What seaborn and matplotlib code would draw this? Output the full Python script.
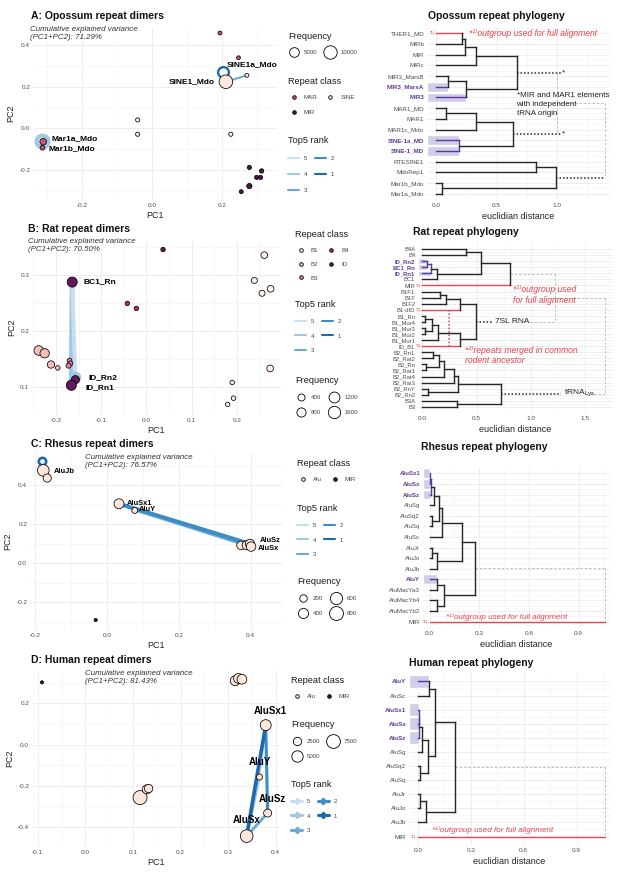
import numpy as np
import pandas as pd
import seaborn as sns
import matplotlib.pyplot as plt
from matplotlib.lines import Line2D
from matplotlib.ticker import MultipleLocator
from matplotlib.transforms import offset_copy

W, H = 617, 872

rank_colors = {1: "#1d6aaf", 2: "#3d8cc4", 3: "#6aaad5", 4: "#9fc9e3", 5: "#c9dff0"}
PURPLE = "#5b3b97"
RED = "#e8434f"
DARK = "#262626"
GREY = "#4d4d4d"

# ---------------- PCA data
# A: opossum
opo_name = ["MAR1", "MAR1_MD", "SINE1a_Mdo", "SINE1_Mdo", "RTESINE1", "MdoRep1", "SINE-1a_MD",
            "Mar1a_Mdo", "Mar1b_Mdo", "MIR", "MIRb", "MIRc", "MIR3", "MIR3_MarsA", "MIR3_MarsB"]
opo_class = ["MAR", "MAR", "SINE", "SINE", "SINE", "SINE", "SINE", "MAR", "MAR",
             "MIR", "MIR", "MIR", "MIR", "MIR", "MIR"]
opo_pc1 = [0.194, 0.247, 0.271, 0.211, -0.041, -0.041, 0.225, -0.311, -0.313,
           0.278, 0.313, 0.299, 0.310, 0.278, 0.255]
opo_pc2 = [0.458, 0.339, 0.254, 0.223, 0.039, -0.030, -0.030, -0.066, -0.095,
           -0.190, -0.207, -0.238, -0.238, -0.280, -0.307]
opo_freq = [350, 300, 400, 10300, 500, 500, 500, 2100, 760, 500, 600, 500, 500, 1100, 400]
opo_labels = ["SINE1a_Mdo", "SINE1_Mdo", "Mar1a_Mdo", "Mar1b_Mdo"]
opo_pairs = [("SINE1_Mdo", "SINE1a_Mdo", 3, 260), ("Mar1a_Mdo", "Mar1b_Mdo", 5, 300)]
opo_loops = [("SINE1_Mdo", 1, 325), ("Mar1a_Mdo", 4, 625)]
opo_freq_keys = [5000, 10000]
opo_variance = 71.29

# B: rat
rat_name = ["BC1_Rn", "ID_Rn2", "ID_Rn1", "ID", "B4A", "B4", "B2_Rn", "B2_Rat1", "B2_Rat2", "B2_Rat3",
            "B3", "B3A", "B3_Rn", "B1_Rn", "B1F", "B1F1", "B1F2", "B1_Mur1", "B1_Mur2", "B1_Mur3", "B1_Mur4"]
rat_class = ["ID", "ID", "ID", "ID", "B4", "B4", "B2", "B2", "B2", "B2",
             "B3", "B3", "B3", "B1", "B1", "B1", "B1", "B1", "B1", "B1", "B1"]
rat_pc1 = [-0.164, -0.157, -0.166, 0.037, -0.042, -0.022, -0.238, -0.225, -0.211, -0.196,
           -0.170, -0.168, -0.172, 0.261, 0.239, 0.256, 0.275, 0.274, 0.190, 0.193, 0.180]
rat_pc2 = [0.287, 0.113, 0.103, 0.345, 0.249, 0.240, 0.165, 0.160, 0.140, 0.134,
           0.147, 0.142, 0.138, 0.335, 0.290, 0.267, 0.275, 0.133, 0.108, 0.080, 0.069]
rat_freq = [1000, 600, 1000, 40, 40, 40, 900, 830, 450, 60,
            80, 80, 120, 340, 240, 240, 340, 340, 50, 60, 40]
rat_labels = ["BC1_Rn", "ID_Rn2", "ID_Rn1"]
rat_pairs = [("BC1_Rn", "ID_Rn1", 4, 800), ("BC1_Rn", "ID_Rn2", 5, 600)]
rat_loops = [("ID_Rn2", 4, 525)]
rat_freq_keys = [400, 800, 1200, 1600]
rat_variance = 70.50

# C: rhesus
rhe_name = ["AluJb", "AluJo", "AluSx1", "AluY", "AluSc", "AluSg", "AluSz", "AluSx", "MIR"]
rhe_class = ["Alu", "Alu", "Alu", "Alu", "Alu", "Alu", "Alu", "Alu", "MIR"]
rhe_pc1 = [-0.178, -0.167, 0.033, 0.077, 0.373, 0.389, 0.398, 0.401, -0.032]
rhe_pc2 = [0.475, 0.436, 0.304, 0.270, 0.091, 0.092, 0.099, 0.085, -0.291]
rhe_freq = [550, 250, 390, 110, 280, 320, 330, 350, 0]
rhe_labels = ["AluJb", "AluSx1", "AluY", "AluSz", "AluSx"]
rhe_pairs = [("AluY", "AluSz", 5, 300), ("AluY", "AluSx", 4, 400),
             ("AluSx1", "AluSx", 3, 500), ("AluSx1", "AluSz", 2, 620)]
rhe_loops = [("AluJb", 1, 375)]
rhe_freq_keys = [200, 400, 600, 800]
rhe_variance = 76.57

# D: human
hum_name = ["MIR", "AluJb", "AluJo", "AluJr", "AluSx1", "AluY", "AluSz", "AluSx", "AluSq", "AluSg", "AluSq2"]
hum_class = ["MIR", "Alu", "Alu", "Alu", "Alu", "Alu", "Alu", "Alu", "Alu", "Alu", "Alu"]
hum_pc1 = [-0.091, 0.315, 0.322, 0.329, 0.379, 0.366, 0.383, 0.339, 0.115, 0.129, 0.133]
hum_pc2 = [0.302, 0.310, 0.321, 0.317, 0.094, -0.158, -0.333, -0.445, -0.258, -0.218, -0.214]
hum_freq = [0, 3700, 3700, 3500, 4600, 1100, 2250, 6250, 7750, 2950, 2500]
hum_labels = ["AluSx1", "AluY", "AluSz", "AluSx"]
hum_pairs = [("AluY", "AluSx1", 5, 300), ("AluY", "AluSx", 4, 380), ("AluSx", "AluSz", 3, 420),
             ("AluSx1", "AluSz", 2, 450), ("AluSx1", "AluSx", 1, 560)]
hum_loops = []
hum_freq_keys = [2500, 5000, 7500]
hum_variance = 81.43

opo_palette = {"MAR": "#c9507d", "MIR": "#4b1a44", "SINE": "#fdeade"}
rat_palette = {"B1": "#fff1ea", "B2": "#f7bcb6", "B3": "#e9809f", "B4": "#b5306c", "ID": "#62185a"}
alu_palette = {"Alu": "#fde7db", "MIR": "#3e1237"}

# ---------------- dendrogram data
opo_leaves = ["THER1_MD", "MIRb", "MIR", "MIRc", "MIR3_MarsB", "MIR3_MarsA", "MIR3", "MAR1_MD", "MAR1",
              "MAR1c_Mdo", "SINE-1a_MD", "SINE-1_MD", "RTESINE1", "MdoRep1", "Mar1b_Mdo", "Mar1a_Mdo"]
opo_merges = [("THER1_MD", "MIRb", 0.21), (0, "MIR", 0.24), (1, "MIRc", 0.33),
              ("MIR3_MarsB", "MIR3_MarsA", 0.10), (3, "MIR3", 0.25), (2, 4, 0.67),
              ("MAR1_MD", "MAR1", 0.08), (6, "MAR1c_Mdo", 0.33), ("SINE-1a_MD", "SINE-1_MD", 0.19),
              (7, 8, 0.64), ("RTESINE1", "MdoRep1", 0.83), ("Mar1b_Mdo", "Mar1a_Mdo", 0.05), (10, 11, 0.99)]
opo_highlight = ["MIR3_MarsA", "MIR3", "SINE-1a_MD", "SINE-1_MD"]
opo_red = ["THER1_MD"]
opo_joins = [1.0, 1.40]

rat_leaves = ["B4A", "B4", "ID_Rn2", "BC1_Rn", "ID_Rn1", "BC1", "MIR", "B1F1", "B1F", "B1F2", "B1-dID",
              "B1_Rn", "B1_Mur4", "B1_Mur3", "B1_Mur2", "B1_Mur1", "ID_B1", "B2_Rn1", "B2_Rat2", "B2_Rn",
              "B2_Rat1", "B2_Rat4", "B2_Rat3", "B2_RnY", "B2_Rn2", "B3A", "B3"]
rat_merges = [("B4A", "B4", 0.40), ("ID_Rn2", "BC1_Rn", 0.04), (1, "ID_Rn1", 0.08), (2, "BC1", 0.135),
              (0, 3, 0.54), (4, "MIR", 0.81), ("B1F1", "B1F", 0.16), (6, "B1F2", 0.22), (7, "B1-dID", 0.345),
              ("B1_Rn", "B1_Mur4", 0.025), ("B1_Mur3", "B1_Mur2", 0.025), (9, 10, 0.085),
              (11, "B1_Mur1", 0.145), (12, "ID_B1", 0.345), (8, 13, 0.495),
              ("B2_Rn1", "B2_Rat2", 0.10), ("B2_Rn", "B2_Rat1", 0.03), (15, 16, 0.15), (17, "B2_Rat4", 0.20),
              (18, "B2_Rat3", 0.29), ("B2_RnY", "B2_Rn2", 0.05), (19, 20, 0.33), ("B3A", "B3", 0.32),
              (21, 22, 0.725)]
rat_highlight = ["ID_Rn2", "BC1_Rn", "ID_Rn1"]
rat_red = ["MIR", "B1-dID", "ID_B1"]
rat_joins = [1.22, 1.69]

rhe_leaves = ["AluSx1", "AluSx", "AluSz", "AluSg", "AluSq2", "AluSq", "AluSc", "AluJr", "AluJo", "AluJb",
              "AluY", "AluMacYa3", "AluMacYb4", "AluMacYb2", "MIR"]
rhe_merges = [("AluSx1", "AluSx", 0.004), (0, "AluSz", 0.01), (1, "AluSg", 0.024), ("AluSq2", "AluSq", 0.012),
              (2, 3, 0.054), (4, "AluSc", 0.076), ("AluJr", "AluJo", 0.012), (6, "AluJb", 0.044),
              (5, 7, 0.195), ("AluY", "AluMacYa3", 0.044), ("AluMacYb4", "AluMacYb2", 0.044),
              (9, 10, 0.089), (8, 11, 0.276)]
rhe_highlight = ["AluSx1", "AluSx", "AluSz", "AluY"]
rhe_outgroup_dist = 1.06

hum_leaves = ["AluY", "AluSc", "AluSx1", "AluSx", "AluSz", "AluSg", "AluSq2", "AluSq", "AluJr", "AluJo",
              "AluJb", "MIR"]
hum_merges = [("AluY", "AluSc", 0.063), ("AluSx1", "AluSx", 0.004), (1, "AluSz", 0.006), (2, "AluSg", 0.023),
              ("AluSq2", "AluSq", 0.011), (3, 4, 0.057), (0, 5, 0.10), ("AluJr", "AluJo", 0.011),
              (7, "AluJb", 0.046), (6, 8, 0.213)]
hum_highlight = ["AluY", "AluSx1", "AluSx", "AluSz"]
hum_outgroup_dist = 1.06

# ---------------- figure
sns.set_theme(style="whitegrid")
plt.rcParams["font.family"] = ["Liberation Sans", "DejaVu Sans"]
plt.rcParams["axes.unicode_minus"] = False

fig = plt.figure(figsize=(W / 100, H / 100), dpi=100)
fig.patch.set_facecolor("white")


def px_axes(l, t, r, b):
    return fig.add_axes([l / W, 1 - b / H, (r - l) / W, (b - t) / H])


def width(n):
    return 0.4 + n / 250


def msize(f, cfg):
    dmin, dmax, fmax = cfg
    return 0.72 * np.sqrt(dmin ** 2 + (dmax ** 2 - dmin ** 2) * f / fmax)


def style_axes(ax, xlim, ylim, xstep, ystep):
    ax.set_xlim(*xlim)
    ax.set_ylim(*ylim)
    ax.xaxis.set_major_locator(MultipleLocator(xstep))
    ax.xaxis.set_minor_locator(MultipleLocator(xstep / 2))
    if ystep:
        ax.yaxis.set_major_locator(MultipleLocator(ystep))
        ax.yaxis.set_minor_locator(MultipleLocator(ystep / 2))
    ax.grid(which="major", color="#ebebeb", lw=0.6)
    ax.grid(which="minor", color="#f4f4f4", lw=0.4)
    ax.tick_params(which="both", length=0, labelsize=4.6, labelcolor=GREY, pad=2)
    for s in ax.spines.values():
        s.set_visible(False)
    ax.set_axisbelow(True)


def add_legend(handles, labels, title, x, y, rowgap=1.5, colgap=1.2, hlen=1.8):
    leg = fig.legend(handles, labels, title=title, loc="upper left",
                     bbox_to_anchor=(x / W, 1 - y / H), ncol=2, frameon=False,
                     fontsize=4.4, title_fontsize=6.6, alignment="left", borderpad=0,
                     borderaxespad=0, handlelength=hlen, handletextpad=0.8,
                     columnspacing=colgap, labelspacing=rowgap)
    for t in leg.get_texts():
        t.set_color("#444444")
    leg.get_title().set_color("#1a1a1a")


def pca_panel(rect, names, cls, pc1, pc2, freq, palette, size_cfg, pairs, loops, loop_style,
              labels, lab_fs, lab_offs, xlim, ylim, xstep, ystep):
    ax = px_axes(*rect)
    df = pd.DataFrame({"name": names, "cls": cls, "PC1": pc1, "PC2": pc2, "freq": freq})
    dmin, dmax, fmax = size_cfg
    sns.scatterplot(data=df, x="PC1", y="PC2", hue="cls", size="freq", palette=palette,
                    sizes=((0.72 * dmin) ** 2, (0.72 * dmax) ** 2), size_norm=(0, fmax),
                    edgecolor="black", linewidth=0.55, legend=False, ax=ax, zorder=3)
    xy = df.set_index("name")
    for a, b, rk, n in pairs:
        ax.plot([xy.loc[a, "PC1"], xy.loc[b, "PC1"]], [xy.loc[a, "PC2"], xy.loc[b, "PC2"]],
                color=rank_colors[rk], lw=width(n), solid_capstyle="round", zorder=2)
    for (nm, rk, n), (dx, dy, ms) in zip(loops, loop_style):
        tr = offset_copy(ax.transData, fig=fig, x=dx, y=dy, units="points")
        ax.plot([xy.loc[nm, "PC1"]], [xy.loc[nm, "PC2"]], marker="o", ms=ms, mfc="none",
                mec=rank_colors[rk], mew=width(n), transform=tr, zorder=2)
    for nm in labels:
        dx, dy, ha = lab_offs[nm]
        ax.annotate(nm, (xy.loc[nm, "PC1"], xy.loc[nm, "PC2"]), xytext=(dx, dy),
                    textcoords="offset points", ha=ha, va="center", fontsize=lab_fs,
                    fontweight="bold", color="black", zorder=4)
    style_axes(ax, xlim, ylim, xstep, ystep)
    ax.set_xlabel("PC1", fontsize=6.5, color="#222222", labelpad=2)
    ax.set_ylabel("PC2", fontsize=6.5, color="#222222", labelpad=3)
    return ax


def legend_handles(kind, palette=None, keys=None, size_cfg=None, diamonds=False):
    if kind == "class":
        hs = [Line2D([], [], ls="", marker="o", ms=2.6, mfc=palette[k], mec="black", mew=0.6)
              for k in palette]
        return hs, list(palette)
    if kind == "freq":
        hs = [Line2D([], [], ls="", marker="o", ms=msize(k, size_cfg), mfc="white", mec="black", mew=0.6)
              for k in keys]
        return hs, [str(k) for k in keys]
    order = [5, 4, 3, 2, 1]
    hs = [Line2D([], [], color=rank_colors[r], lw=1.5 if not diamonds else 2.2,
                 marker="D" if diamonds else None, ms=3.2) for r in order]
    return hs, [str(r) for r in order]


def dendro_panel(rect, leaves, merges, highlight, red, xlim, xstep, margin, leaf_fs, outgroup_dist=None):
    ax = px_axes(*rect)
    n = len(leaves)
    ypos = {lf: i for i, lf in enumerate(leaves)}
    hl = set(highlight)
    nodes = []
    first = {}

    def get(c):
        if isinstance(c, str):
            return 0.0, ypos[c], {c}
        return nodes[c]

    for a, b, h in merges:
        xa, ya, la = get(a)
        xb, yb, lb = get(b)
        parent_hl = (la | lb) <= hl
        for c, (xc, yc, lc) in ((a, (xa, ya, la)), (b, (xb, yb, lb))):
            if isinstance(c, str):
                first[c] = h
                col = PURPLE if c in hl else (RED if c in red else DARK)
            else:
                col = PURPLE if (lc <= hl and parent_hl) else DARK
            ax.plot([xc, h], [yc, yc], color=col, lw=1.0, solid_capstyle="projecting", zorder=3)
        ax.plot([h, h], [ya, yb], color=PURPLE if parent_hl else DARK, lw=1.0,
                solid_capstyle="projecting", zorder=3)
        nodes.append((h, (ya + yb) / 2, la | lb))
    if outgroup_dist is not None:
        ax.plot([0, outgroup_dist], [ypos[red[0]]] * 2, color=RED, lw=1.0, zorder=3)
    for lf in highlight:
        ax.barh(ypos[lf], first[lf] - xlim[0], left=xlim[0], height=0.92, color="#cfcde8", zorder=1)
    for lf in red:
        ax.text(-0.008 * (xlim[1] - xlim[0]), ypos[lf], "*1)" if lf == red[0] else "*2)", color=RED,
                fontsize=3.0, ha="right", va="center", zorder=4)
    style_axes(ax, xlim, (n - 1 + margin, -margin), xstep, None)
    ax.set_yticks(range(n))
    ax.set_yticks(np.arange(n - 1) + 0.5, minor=True)
    ax.set_yticklabels(leaves, fontsize=leaf_fs)
    for t in ax.get_yticklabels():
        if t.get_text() in hl:
            t.set_color(PURPLE)
            t.set_fontweight("bold")
    ax.set_xlabel("euclidian distance", fontsize=6.5, color="#222222", labelpad=3)
    return ax, nodes, ypos


def dashed(ax, xs, ys):
    ax.plot(xs, ys, color="#bdbdbd", lw=0.7, ls=(0, (2.5, 2)), zorder=2)


def dotted(ax, xs, ys, color=DARK):
    ax.plot(xs, ys, color=color, lw=1.1, ls=(0, (1, 1.3)), zorder=2)


def title(x, y, s, ha="left"):
    fig.text(x / W, 1 - y / H, s, fontsize=7.5, fontweight="bold", ha=ha, va="center", color="#111111")


def variance(x, y, v):
    fig.text(x / W, 1 - y / H, "Cumulative explained variance\n(PC1+PC2): %.2f%%" % v, fontsize=5.7,
             style="italic", color="#333333", ha="left", va="top", linespacing=1.15)


red_note = dict(color=RED, style="italic", fontsize=6.2, va="center", ha="left")

# ================= A
title(31, 16, "A: Opossum repeat dimers")
variance(30, 26, opo_variance)
cfg = (3.0, 14.0, 11000)
pca_panel((33, 27, 277, 200), opo_name, opo_class, opo_pc1, opo_pc2, opo_freq, opo_palette, cfg,
          opo_pairs, opo_loops, [(-1.9, 7.2, 7.7), (-0.6, 0.7, 8.6)], opo_labels, 6.0,
          {"SINE1a_Mdo": (-14.2, 7.9, "left"), "SINE1_Mdo": (-7.9, 0, "right"),
           "Mar1a_Mdo": (6.0, 2.4, "left"), "Mar1b_Mdo": (4.3, -0.4, "left")},
          (-0.34, 0.357), (-0.347, 0.487), 0.2, 0.2)
add_legend(*legend_handles("freq", keys=opo_freq_keys, size_cfg=cfg), "Frequency", 288, 32)
add_legend(*legend_handles("class", palette=opo_palette), "Repeat class", 288, 77)
add_legend(*legend_handles("rank"), "Top5 rank", 288, 136, rowgap=1.75)

title(496, 16, "Opossum repeat phylogeny", ha="center")
ax, nodes, ypos = dendro_panel((427, 27, 610, 200), opo_leaves, opo_merges, opo_highlight, opo_red,
                               (-0.077, 1.44), 0.5, 0.6, 4.5)
mA, mB, mC = nodes[5], nodes[9], nodes[12]
for nd in (mA, mB):
    dotted(ax, [nd[0], opo_joins[0] + 0.03], [nd[1], nd[1]])
    ax.text(opo_joins[0] + 0.045, nd[1], "*", fontsize=6, va="center", ha="left", color=DARK)
dashed(ax, [opo_joins[0]] * 2, [mA[1], mB[1]])
ymid = (mA[1] + mB[1]) / 2
dashed(ax, [opo_joins[0], opo_joins[1]], [ymid, ymid])
dashed(ax, [opo_joins[1]] * 2, [ymid, mC[1]])
dotted(ax, [mC[0], opo_joins[1]], [mC[1], mC[1]])
ax.text(0.27, 0, "*\u00b9\u207eoutgroup used for full alignment", **red_note)
ax.text(0.665, 5.5, "*MIR and MAR1 elements\nwith independent\ntRNA origin", fontsize=5.8,
        color="#222222", va="top", ha="left", linespacing=1.4)

# ================= B
title(28, 229, "B: Rat repeat dimers")
variance(28, 238, rat_variance)
cfg = (4.0, 12.67, 1700)
pca_panel((32, 240, 281, 415), rat_name, rat_class, rat_pc1, rat_pc2, rat_freq, rat_palette, cfg,
          rat_pairs, rat_loops, [(0, 1.9, 5.9)], rat_labels, 6.0,
          {"BC1_Rn": (8.4, 0, "left"), "ID_Rn2": (9.1, 1.2, "left"), "ID_Rn1": (10.0, -1.8, "left")},
          (-0.253, 0.298), (0.05, 0.362), 0.1, 0.1)
add_legend(*legend_handles("class", palette=rat_palette), "Repeat class", 295, 230, rowgap=1.4)
add_legend(*legend_handles("rank"), "Top5 rank", 295, 300, rowgap=1.55)
add_legend(*legend_handles("freq", keys=rat_freq_keys, size_cfg=cfg), "Frequency", 295, 376, rowgap=1.6)

title(466, 232, "Rat repeat phylogeny", ha="center")
ax, nodes, ypos = dendro_panel((418, 243, 612, 413), rat_leaves, rat_merges, rat_highlight, rat_red,
                               (-0.04, 1.75), 0.5, 1.0, 4.2)
top, mid, low = nodes[5], nodes[14], nodes[23]
dashed(ax, [top[0], rat_joins[0]], [top[1], top[1]])
dashed(ax, [rat_joins[0]] * 2, [top[1], mid[1]])
dotted(ax, [mid[0], mid[0] + 0.15], [mid[1], mid[1]])
ax.text(mid[0] + 0.18, mid[1], "7SL RNA", fontsize=6.0, color="#222222", va="center", ha="left")
dashed(ax, [mid[0] + 0.50, rat_joins[0]], [mid[1], mid[1]])
ymid = (top[1] + mid[1]) / 2
dashed(ax, [rat_joins[0], rat_joins[1]], [ymid, ymid])
dashed(ax, [rat_joins[1]] * 2, [ymid, low[1]])
dotted(ax, [low[0], low[0] + 0.55], [low[1], low[1]])
ax.text(low[0] + 0.58, low[1], "tRNA$_{\\mathregular{Lys}}$", fontsize=6.0, color="#222222",
        va="center", ha="left")
dashed(ax, [low[0] + 0.78, rat_joins[1]], [low[1], low[1]])
dotted(ax, [0.25, 0.25], [ypos["B1-dID"], ypos["ID_B1"]], color=RED)
ax.text(0.84, 6.0, "*\u00b9\u207eoutgroup used\nfor full alignment", linespacing=1.2,
        **{**red_note, "va": "top"})
ax.text(0.39, 15.9, "*\u00b2\u207erepeats merged in common\nrodent ancestor", linespacing=1.2,
        **{**red_note, "va": "top"})

# ================= C
title(31, 444, "C: Rhesus repeat dimers")
variance(85, 454, rhe_variance)
cfg = (3.16, 14.7, 900)
pca_panel((30, 453, 283, 630), rhe_name, rhe_class, rhe_pc1, rhe_pc2, rhe_freq, alu_palette, cfg,
          rhe_pairs, rhe_loops, [(-1.2, 6.5, 5.3)], rhe_labels, 5.4,
          {"AluJb": (7.7, -1.1, "left"), "AluSx1": (5.8, 0, "left"), "AluY": (3.1, 0.5, "left"),
           "AluSz": (7.2, 2.2, "left"), "AluSx": (4.8, -1.2, "left")},
          (-0.215, 0.49), (-0.342, 0.564), 0.2, 0.2)
add_legend(*legend_handles("class", palette=alu_palette), "Repeat class", 297, 459)
add_legend(*legend_handles("rank"), "Top5 rank", 297, 504, rowgap=1.55)
add_legend(*legend_handles("freq", keys=rhe_freq_keys, size_cfg=cfg), "Frequency", 297, 577, rowgap=1.6)

title(484, 447, "Rhesus repeat phylogeny", ha="center")
ax, nodes, ypos = dendro_panel((423, 467, 610, 628), rhe_leaves, rhe_merges, rhe_highlight, ["MIR"],
                               (-0.04, 1.09), 0.3, 0.6, 4.4, outgroup_dist=rhe_outgroup_dist)
root = nodes[-1]
dashed(ax, [root[0], rhe_outgroup_dist], [root[1], root[1]])
dashed(ax, [rhe_outgroup_dist] * 2, [root[1], ypos["MIR"]])
ax.text(0.10, ypos["MIR"] - 0.45, "*\u00b9\u207eoutgroup used for full alignment", **{**red_note, "fontsize": 5.9})

# ================= D
title(31, 660, "D: Human repeat dimers")
variance(85, 670, hum_variance)
cfg = (3.16, 14.2, 8000)
pca_panel((32, 670, 280, 847), hum_name, hum_class, hum_pc1, hum_pc2, hum_freq, alu_palette, cfg,
          hum_pairs, hum_loops, [], hum_labels, 7.0,
          {"AluSx1": (3.6, 10.3, "center"), "AluY": (0, 10.8, "center"),
           "AluSz": (3.1, 10.3, "center"), "AluSx": (0, 11.3, "center")},
          (-0.112, 0.409), (-0.498, 0.362), 0.1, 0.2)
add_legend(*legend_handles("class", palette=alu_palette), "Repeat class", 291, 676)
add_legend(*legend_handles("freq", keys=hum_freq_keys, size_cfg=cfg), "Frequency", 291, 720, rowgap=1.6)
add_legend(*legend_handles("rank", diamonds=True), "Top5 rank", 291, 780, rowgap=1.55)

title(471, 663, "Human repeat phylogeny", ha="center")
ax, nodes, ypos = dendro_panel((409, 673, 610, 845), hum_leaves, hum_merges, hum_highlight, ["MIR"],
                               (-0.05, 1.09), 0.3, 0.6, 4.5, outgroup_dist=hum_outgroup_dist)
root = nodes[-1]
dashed(ax, [root[0], hum_outgroup_dist], [root[1], root[1]])
dashed(ax, [hum_outgroup_dist] * 2, [root[1], ypos["MIR"]])
ax.text(0.08, ypos["MIR"] - 0.45, "*\u00b9\u207eoutgroup used for full alignment", **{**red_note, "fontsize": 5.9})

fig.savefig("out.png", dpi=100, facecolor="white")
